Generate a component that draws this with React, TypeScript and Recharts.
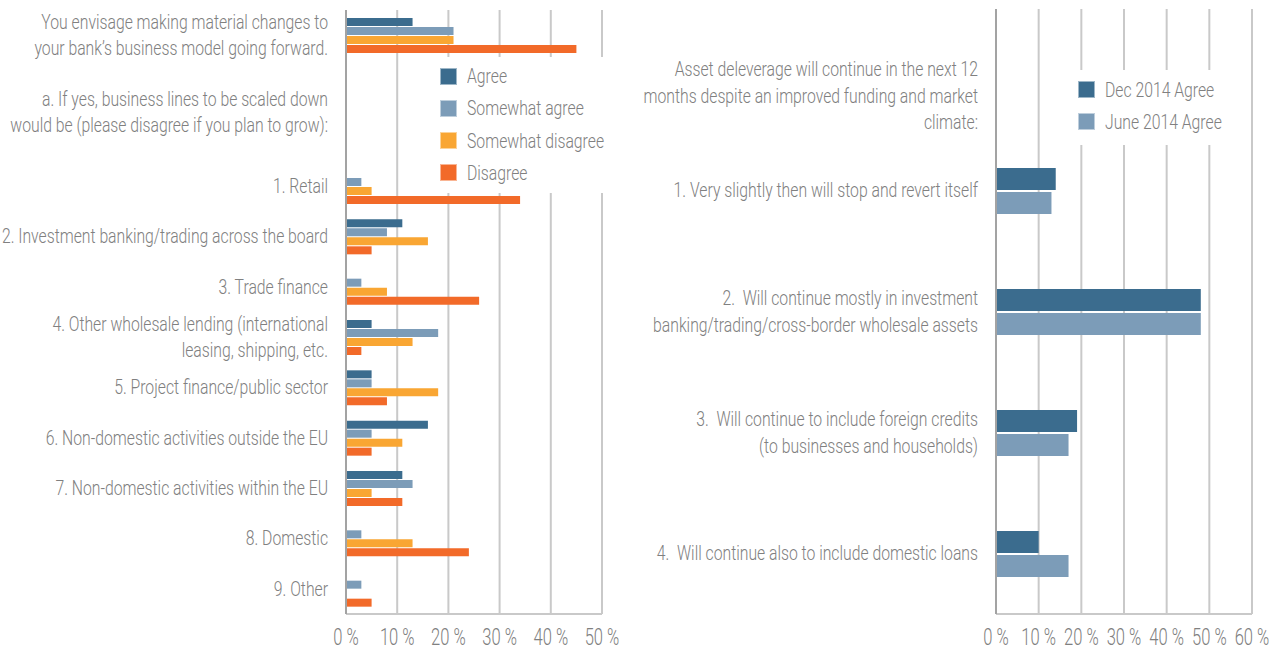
import React from "react";
import { BarChart, Bar, XAxis, YAxis, CartesianGrid, Legend } from "recharts";

const leftCategories = [
  "You envisage making material changes to\nyour bank’s business model going forward.",
  "\n\na. If yes, business lines to be scaled down\nwould be (please disagree if you plan to grow):",
  "",
  "1. Retail",
  "2. Investment banking/trading across the board",
  "3. Trade finance",
  "4. Other wholesale lending (international\nleasing, shipping, etc.",
  "5. Project finance/public sector",
  "6. Non-domestic activities outside the EU",
  "7. Non-domestic activities within the EU",
  "8. Domestic",
  "9. Other",
];
const agree = [13, 0, 0, 0, 11, 0, 5, 5, 16, 11, 0, 0];
const somewhatAgree = [21, 0, 0, 3, 8, 3, 18, 5, 5, 13, 3, 3];
const somewhatDisagree = [21, 0, 0, 5, 16, 8, 13, 18, 11, 5, 13, 0];
const disagree = [45, 0, 0, 34, 5, 26, 3, 8, 5, 11, 24, 5];
const leftTicks = [0, 10, 20, 30, 40, 50];

const rightCategories = [
  "\n\nAsset deleverage will continue in the next 12\nmonths despite an improved funding and market\nclimate:",
  "1. Very slightly then will stop and revert itself",
  "2.  Will continue mostly in investment\nbanking/trading/cross-border wholesale assets",
  "3.  Will continue to include foreign credits\n(to businesses and households)",
  "4.  Will continue also to include domestic loans",
];
const dec2014Agree = [0, 14, 48, 19, 10];
const june2014Agree = [0, 13, 48, 17, 17];
const rightTicks = [0, 10, 20, 30, 40, 50, 60];

const leftSeries = [
  { key: "agree", name: "Agree", color: "#3B6C8E" },
  { key: "somewhatAgree", name: "Somewhat agree", color: "#7C9CB8" },
  { key: "somewhatDisagree", name: "Somewhat disagree", color: "#F9A633" },
  { key: "disagree", name: "Disagree", color: "#F26A29" },
];
const rightSeries = [
  { key: "dec", name: "Dec 2014 Agree", color: "#3B6C8E" },
  { key: "june", name: "June 2014 Agree", color: "#7C9CB8" },
];

const leftData = leftCategories.map((name, i) => ({
  name,
  agree: agree[i],
  somewhatAgree: somewhatAgree[i],
  somewhatDisagree: somewhatDisagree[i],
  disagree: disagree[i],
}));
const rightData = rightCategories.map((name, i) => ({
  name,
  dec: dec2014Agree[i],
  june: june2014Agree[i],
}));

const FONT = "Roboto, 'Open Sans', sans-serif";
const WEIGHT = 300;
const SX = 0.75; // horizontal condensing of the typeface
const TEXT = "#808080";
const GRID = "#c9c9c9";

const CategoryTick = (props: any) => {
  const { x, y, payload } = props;
  const lines = String(payload.value).split("\n");
  const lh = 26.5;
  const start = -((lines.length - 1) * lh) / 2;
  return (
    <g transform={`translate(${x} ${y}) scale(${SX} 1)`}>
      <text textAnchor="end" fill={TEXT} fontSize={21} fontWeight={WEIGHT} fontFamily={FONT} style={{ whiteSpace: "pre" }}>
        {lines.map((l, i) => (
          <tspan key={i} x={0} y={start + i * lh} dominantBaseline="central">
            {l}
          </tspan>
        ))}
      </text>
    </g>
  );
};

const PercentTick = (props: any) => {
  const { x, y, payload } = props;
  return (
    <g transform={`translate(${x} ${y + 23}) scale(0.72 1)`}>
      <text textAnchor="middle" dominantBaseline="central" fill={TEXT} fontSize={23} fontWeight={WEIGHT} fontFamily={FONT}>
        {`${payload.value} %`}
      </text>
    </g>
  );
};

const LegendBox = ({ items, spacing, box }: any) => (
  <div style={{ width: "100%", height: "100%", background: "#fff", position: "relative" }}>
    {items.map((it: any, i: number) => (
      <div
        key={it.key}
        style={{
          position: "absolute",
          left: box,
          top: box / 1.5 + i * spacing,
          display: "flex",
          alignItems: "center",
          height: 18,
        }}
      >
        <div style={{ width: 17, height: 17, flex: "none", background: it.color, border: "1px solid rgba(255,255,255,0.5)", boxSizing: "border-box" }} />
        <span
          style={{
            marginLeft: 10,
            fontFamily: FONT,
            fontWeight: WEIGHT,
            fontSize: 21,
            color: TEXT,
            whiteSpace: "nowrap",
            display: "inline-block",
            transform: `scaleX(${SX})`,
            transformOrigin: "left center",
          }}
        >
          {it.name}
        </span>
      </div>
    ))}
  </div>
);

export default function App() {
  return (
    <div style={{ position: "absolute", left: 0, top: 0, width: 1279, height: 650, background: "#fff", overflow: "hidden" }}>
      <div style={{ position: "absolute", left: 0, top: 0 }}>
        <BarChart
          width={625}
          height={650}
          layout="vertical"
          data={leftData}
          margin={{ top: 10, right: 23, bottom: 0, left: 0 }}
          barSize={8}
          barGap={1}
        >
          <CartesianGrid horizontal={false} stroke={GRID} strokeWidth={2} />
          <XAxis
            type="number"
            domain={[0, 50]}
            ticks={leftTicks}
            height={36}
            axisLine={{ stroke: GRID, strokeWidth: 2 }}
            tickLine={false}
            tickSize={0}
            tickMargin={0}
            tick={<PercentTick />}
            interval={0}
          />
          <YAxis
            type="category"
            dataKey="name"
            width={346}
            axisLine={{ stroke: "#a3a3a3", strokeWidth: 2 }}
            tickLine={false}
            tickSize={0}
            tickMargin={18}
            tick={<CategoryTick />}
            interval={0}
          />
          <Legend
            layout="vertical"
            align="center"
            verticalAlign="middle"
            wrapperStyle={{ position: "absolute", left: 425, top: 57, width: 185, height: 136, background: "#fff" }}
            content={() => <LegendBox items={leftSeries} spacing={32.3} box={15} />}
          />
          {leftSeries.map((s) => (
            <Bar key={s.key} dataKey={s.key} name={s.name} fill={s.color} isAnimationActive={false} />
          ))}
        </BarChart>
      </div>
      <div style={{ position: "absolute", left: 600, top: 0 }}>
        <BarChart
          width={679}
          height={650}
          layout="vertical"
          data={rightData}
          margin={{ top: 9, right: 27, bottom: 0, left: 0 }}
          barSize={22}
          barGap={2}
        >
          <CartesianGrid horizontal={false} stroke={GRID} strokeWidth={2} />
          <XAxis
            type="number"
            domain={[0, 60]}
            ticks={rightTicks}
            height={36}
            axisLine={{ stroke: GRID, strokeWidth: 2 }}
            tickLine={false}
            tickSize={0}
            tickMargin={0}
            tick={<PercentTick />}
            interval={0}
          />
          <YAxis
            type="category"
            dataKey="name"
            width={396}
            axisLine={{ stroke: "#a3a3a3", strokeWidth: 2 }}
            tickLine={false}
            tickSize={0}
            tickMargin={18}
            tick={<CategoryTick />}
            interval={0}
          />
          <Legend
            layout="vertical"
            align="center"
            verticalAlign="middle"
            wrapperStyle={{ position: "absolute", left: 462, top: 70, width: 168, height: 75, background: "#fff" }}
            content={() => <LegendBox items={rightSeries} spacing={32} box={16} />}
          />
          {rightSeries.map((s) => (
            <Bar key={s.key} dataKey={s.key} name={s.name} fill={s.color} isAnimationActive={false} />
          ))}
        </BarChart>
      </div>
    </div>
  );
}
